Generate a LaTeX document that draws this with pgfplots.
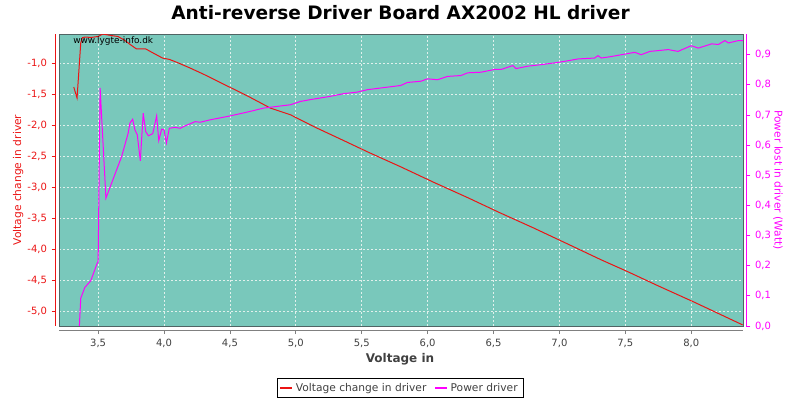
\documentclass[border=0pt]{standalone}
\usepackage{pgfplots}
\pgfplotsset{compat=1.18}
\usepackage{fontspec}
\setmainfont{DejaVu Sans}
\definecolor{bg}{RGB}{121,200,187}
\definecolor{mag}{RGB}{255,0,255}
\definecolor{lred}{RGB}{235,20,20}
\definecolor{framec}{RGB}{80,100,100}
\definecolor{txtgray}{RGB}{64,64,64}
\definecolor{gridc}{RGB}{225,240,236}

\pgfplotsset{
  common/.style={anchor=south west, width=513pt, height=219pt, scale only axis,
    xmin=3.203, xmax=8.393,
    /pgf/number format/use comma,
    /pgf/number format/fixed,
    /pgf/number format/fixed zerofill,
    /pgf/number format/precision=1,
    /pgf/number format/assume math mode=true},
}

\begin{document}
\begin{tikzpicture}
\path[use as bounding box] (0,0) rectangle (600pt,300pt);

% main plot area with red data
\begin{axis}[common, at={(44.25pt,55.5pt)},
  ymin=-5.238, ymax=-0.52,
  axis background/.style={fill=bg},
  axis line style={framec, line width=0.6pt},
  xtick={3.5,4.0,4.5,5.0,5.5,6.0,6.5,7.0,7.5,8.0},
  ytick={-5.0,-4.5,-4.0,-3.5,-3.0,-2.5,-2.0,-1.5,-1.0},
  xticklabels={}, yticklabels={},
  major tick length=0pt,
  grid=major,
  grid style={gridc, line width=0.5pt, dash pattern=on 1.5pt off 1.5pt},
  clip=true]
\addplot[lred, line width=0.75pt] coordinates {
(3.315,-1.377) (3.34,-1.555) (3.368,-0.665) (3.38,-0.58) (3.40,-0.57)
(3.45,-0.575) (3.50,-0.56) (3.535,-0.52) (3.56,-0.53) (3.60,-0.545)
(3.65,-0.56) (3.70,-0.62) (3.75,-0.70) (3.79,-0.76) (3.86,-0.76)
(3.92,-0.83) (3.99,-0.91) (4.04,-0.93) (4.10,-0.98) (4.198,-1.07)
(4.30,-1.17) (4.502,-1.383) (4.65,-1.54) (4.807,-1.717) (4.959,-1.825)
(5.15,-2.03) (5.339,-2.218) (5.55,-2.43) (5.8,-2.67) (6.05,-2.92)
(6.3,-3.16) (6.55,-3.41) (6.8,-3.65) (7.05,-3.90) (7.318,-4.17)
(7.508,-4.35) (7.75,-4.59) (8.016,-4.846) (8.2,-5.03) (8.39,-5.22)
};
\end{axis}

% magenta data, right scale
\begin{axis}[common, at={(44.25pt,55.5pt)},
  ymin=0, ymax=0.9688,
  hide axis, clip=true,
  legend columns=2,
  legend style={at={(0.4985,-0.2123)}, anchor=center, draw=black,
    line width=0.5pt, font=\fontsize{8pt}{9.6pt}\selectfont, text=txtgray,
    /tikz/every even column/.append style={column sep=4pt},
    inner xsep=2pt, inner ysep=1.5pt},
  legend image post style={line width=1.2pt},
  legend image code/.code={\draw[#1] (0pt,0pt) -- (9pt,0pt);}]
\addlegendimage{lred, line width=0.75pt}
\addlegendentry{Voltage change in driver}
\addplot[mag, line width=0.75pt] coordinates {
(3.352,-0.05) (3.368,0.092) (3.399,0.128) (3.444,0.15) (3.49,0.205)
(3.50,0.214) (3.515,0.79) (3.559,0.424) (3.678,0.562) (3.728,0.64)
(3.741,0.673) (3.762,0.686) (3.779,0.651) (3.797,0.634) (3.820,0.548)
(3.842,0.706) (3.861,0.645) (3.881,0.631) (3.914,0.638) (3.944,0.697)
(3.960,0.615) (3.982,0.653) (4.0,0.651) (4.018,0.607) (4.040,0.656)
(4.084,0.659) (4.122,0.656) (4.160,0.664) (4.198,0.671) (4.236,0.678)
(4.274,0.676) (4.35,0.684) (4.502,0.697) (4.654,0.712) (4.756,0.723)
(4.959,0.734) (5.035,0.745) (5.11,0.751) (5.263,0.762) (5.365,0.771)
(5.467,0.776) (5.543,0.784) (5.669,0.791) (5.796,0.798) (5.847,0.808)
(5.948,0.812) (5.999,0.82) (6.075,0.817) (6.151,0.828) (6.253,0.831)
(6.304,0.84) (6.405,0.842) (6.506,0.851) (6.557,0.851) (6.646,0.864)
(6.671,0.854) (6.760,0.862) (6.861,0.867) (6.963,0.873) (7.039,0.878)
(7.141,0.886) (7.267,0.889) (7.293,0.897) (7.318,0.889) (7.394,0.894)
(7.572,0.908) (7.62,0.9) (7.686,0.911) (7.826,0.917) (7.90,0.911)
(8.0,0.93) (8.054,0.922) (8.155,0.936) (8.206,0.934) (8.256,0.947)
(8.282,0.939) (8.358,0.947) (8.396,0.947)
};
\addlegendentry{Power driver}
\end{axis}

% left axis (red)
\begin{axis}[common, at={(41.25pt,55.5pt)},
  ymin=-5.238, ymax=-0.52,
  hide x axis, axis y line*=left,
  axis line style={lred, line width=0.6pt, -},
  ytick={-5.0,-4.5,-4.0,-3.5,-3.0,-2.5,-2.0,-1.5,-1.0},
  tick align=outside, major tick length=2.5pt,
  tick style={lred, line width=0.6pt},
  yticklabel style={text=lred, font=\fontsize{7.5pt}{9pt}\selectfont},
  ylabel={Voltage change in driver},
  ylabel style={text=lred, font=\fontsize{8pt}{9.6pt}\selectfont,
    at={(axis description cs:-0.054,0.5)}, anchor=center}]
\addplot[draw=none] coordinates {(4,-2)};
\end{axis}

% right axis (magenta)
\begin{axis}[common, at={(46.75pt,55.5pt)},
  ymin=0, ymax=0.9688,
  hide x axis, axis y line*=right,
  axis line style={mag, line width=0.6pt, -},
  ytick={0,0.1,0.2,0.3,0.4,0.5,0.6,0.7,0.8,0.9},
  tick align=outside, major tick length=3pt,
  tick style={mag, line width=0.6pt},
  yticklabel style={text=mag, font=\fontsize{7.5pt}{9pt}\selectfont},
  ylabel={Power lost in driver (Watt)},
  ylabel style={text=mag, font=\fontsize{8pt}{9.6pt}\selectfont,
    at={(axis description cs:1.0463,0.5)}, anchor=center, rotate=180}]
\addplot[draw=none] coordinates {(4,0.5)};
\end{axis}

% bottom axis
\begin{axis}[common, at={(44.25pt,52.5pt)},
  ymin=0, ymax=1,
  hide y axis, axis x line*=bottom,
  axis line style={gray, line width=0.6pt, -},
  xtick={3.5,4.0,4.5,5.0,5.5,6.0,6.5,7.0,7.5,8.0},
  tick align=outside, major tick length=3pt,
  tick style={gray, line width=0.6pt},
  xticklabel style={text=txtgray, font=\fontsize{7.5pt}{9pt}\selectfont},
  xlabel={Voltage in},
  xlabel style={text=txtgray, font=\bfseries\fontsize{9pt}{10.8pt}\selectfont,
    at={(axis description cs:0.4985,-0.0993)}, anchor=center}]
\addplot[draw=none] coordinates {(4,0.5)};
\end{axis}

\node[font=\bfseries\fontsize{13.9pt}{16pt}\selectfont, anchor=center] at (300.4pt,290.25pt) {Anti-reverse Driver Board AX2002 HL driver};
\node[font=\fontsize{6.7pt}{8pt}\selectfont, anchor=west, inner sep=0pt] at (54.75pt,269.25pt) {www.lygte-info.dk};
\end{tikzpicture}
\end{document}
